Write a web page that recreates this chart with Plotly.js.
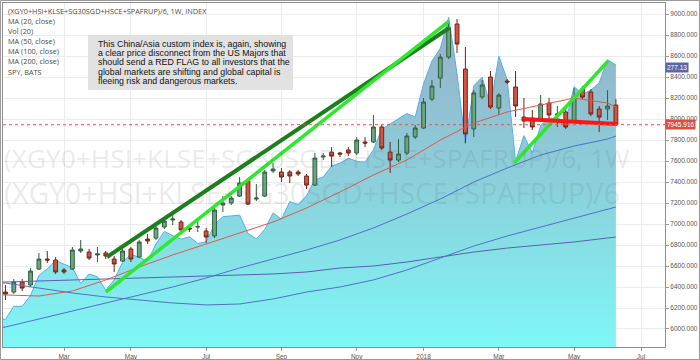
<!DOCTYPE html>
<html><head><meta charset="utf-8">
<script src="https://cdn.plot.ly/plotly-3.0.1.min.js"></script>
<style>html,body{margin:0;padding:0;background:#fff;overflow:hidden}#chart{width:700px;height:360px}</style>
</head><body><div id="chart"></div>
<script>
// ---------- DATA ----------
const weeks = [
 "2017-01-16","2017-01-23","2017-01-30","2017-02-06","2017-02-13","2017-02-20","2017-02-27","2017-03-06","2017-03-13","2017-03-20",
 "2017-03-27","2017-04-03","2017-04-10","2017-04-17","2017-04-24","2017-05-01","2017-05-08","2017-05-15","2017-05-22","2017-05-29",
 "2017-06-05","2017-06-12","2017-06-19","2017-06-26","2017-07-03","2017-07-10","2017-07-17","2017-07-24","2017-07-31","2017-08-07",
 "2017-08-14","2017-08-21","2017-08-28","2017-09-04","2017-09-11","2017-09-18","2017-09-25","2017-10-02","2017-10-09","2017-10-16",
 "2017-10-23","2017-10-30","2017-11-06","2017-11-13","2017-11-20","2017-11-27","2017-12-04","2017-12-11","2017-12-18","2017-12-25",
 "2018-01-01","2018-01-08","2018-01-15","2018-01-22","2018-01-29","2018-02-05","2018-02-12","2018-02-19","2018-02-26","2018-03-05",
 "2018-03-12","2018-03-19","2018-03-26","2018-04-02","2018-04-09","2018-04-16","2018-04-23","2018-04-30","2018-05-07","2018-05-14",
 "2018-05-21","2018-05-28","2018-06-04","2018-06-11"];
const openV = [6352,6352,6447,6419,6571,6666,6657,6562,6571,6743, 6733,6705,6724,6666,6647,6762,6685,6857,6866,6971,
 7038,7019,6962,6971,6933,6886,7181,7200,7266,7409, 7238,7266,7505,7495,7495,7495,7457,7371,7638,7685,
 7676,7705,7676,7781,7781,7924,7685,7609,7676,7829, 7914,8190,8390,8590,8905,8476,7905,8210,8400,8105,
 8362,8305,8019,8009,7990,8152,8038,8067,7981,8286, 8257,8095,8095,8133];
const highV = [6419,6476,6476,6581,6724,6743,6685,6581,6781,6848, 6762,6781,6743,6695,6762,6781,6848,6904,6990,7057,
 7086,7038,6990,7038,6962,7152,7267,7267,7447,7438, 7381,7514,7581,7533,7514,7514,7476,7676,7676,7733,
 7685,7733,7828,7828,8038,7943,7781,7810,7867,7943, 8200,8371,8619,8914,8952,8686,8276,8371,8457,8248,
 8381,8457,8200,8086,8228,8200,8124,8105,8295,8314, 8286,8124,8276,8190];
const lowV = [6276,6333,6362,6400,6562,6628,6524,6524,6562,6724, 6657,6638,6666,6543,6638,6638,6676,6809,6848,6952,
 6990,6914,6924,6924,6819,6866,7114,7181,7257,7181, 7219,7257,7485,7400,7390,7457,7333,7362,7609,7543,
 7638,7647,7657,7733,7771,7705,7486,7590,7657,7810, 7905,8171,8295,8571,8628,7771,7829,8190,8095,8038,
 8333,8019,7914,7895,7971,8009,7924,7905,7971,8190, 8028,7876,7990,7945.916];
const closeV = [6333,6447,6390,6552,6666,6657,6543,6543,6752,6762, 6676,6714,6695,6619,6743,6666,6828,6838,6962,7028,
 7047,6943,6952,6976,6876,7133,7200,7247,7390,7190, 7247,7495,7524,7447,7457,7476,7371,7628,7647,7647,
 7666,7676,7800,7771,7924,7724,7609,7667,7838,7914, 8162,8314,8590,8867,8714,7857,8248,8324,8114,8228,
 8352,8124,7981,7924,8143,8038,8048,7924,8209,8209, 8048,8019,8124,7945.916];

const spyDates = ["2017-01-09"].concat(weeks);
const spyClose = [227.05,226.74,229.37,229.34,231.51,235.44,236.74,238.42,237.69,237.03,233.86,
 235.74,235.20,232.51,234.59,238.08,239.70,238.98,238.31,241.71,244.17,
 243.36,242.64,243.13,241.80,242.11,245.56,247.09,247.32,247.41,243.79,
 242.71,244.56,247.84,246.58,250.09,249.44,251.23,254.37,254.95,257.11,
 257.71,258.67,258.09,257.86,260.36,264.46,265.51,266.51,267.51,266.86,
 273.42,277.92,280.41,286.58,275.45,261.50,273.03,274.71,269.08,278.87,
 274.20,258.05,263.15,259.72,265.15,266.61,266.56,266.02,272.85,271.33,
 272.15,273.60,278.19,277.13];

const maDates = ["2017-01-09","2017-01-16","2017-02-13","2017-03-13","2017-04-10","2017-05-08","2017-06-05","2017-07-03","2017-07-31",
 "2017-08-28","2017-09-25","2017-10-23","2017-11-20","2017-12-18","2018-01-15","2018-02-12","2018-03-12","2018-04-09",
 "2018-05-07","2018-06-04","2018-06-11"];
const ma20  = [6324,6324,6314,6362,6467,6591,6705,6810,6914,7019,7152,7305,7467,7610,7800,7962,8067,8133,8200,8152,8114];
const ma50  = [6005,6019,6095,6172,6248,6324,6400,6486,6581,6667,6752,6848,6962,7095,7238,7400,7533,7657,7743,7809,7838];
const ma100 = [6438,6438,6390,6343,6305,6276,6248,6229,6238,6286,6352,6400,6467,6562,6676,6790,6886,6971,7057,7143,7162];
const ma200 = [6448,6448,6457,6467,6476,6486,6495,6505,6514,6524,6543,6581,6600,6638,6686,6733,6771,6800,6829,6867,6876];

const trendDarkDates = ["2017-04-11","2018-01-22 08:00"];
const trendDarkVals  = [6686,8867];
const trendLimeDates = ["2017-04-10","2018-01-22 08:00"];
const trendLimeVals  = [6352,8933];
const trendLime2Dates = ["2018-03-17 19:00","2018-06-04 12:00"];
const trendLime2Vals  = [7581,8552];
const redFlagDates = ["2018-03-25 07:00","2018-06-12 02:00"];
const redFlagVals  = [8000,7952];

const xTickDates = ["2017-03-06","2017-05-01","2017-07-03","2017-09-04","2017-11-06","2018-01-01","2018-03-05","2018-05-07","2018-07-02"];
const xTickLabels = ["Mar","May","Jul","Sep","Nov","2018","Mar","May","Jul"];

const legendLabels = ["(XGY0+HSI+KLSE+SG30SGD+HSCE+SPAFRUP)/6, 1W, INDEX","MA (20, close)","Vol (20)","MA (50, close)","MA (100, close)","MA (200, close)","SPY, BATS"];
const noteLines = ["This China/Asia custom index is, again, showing","a clear price disconnect from the US Majors that","should send a RED FLAG to all investors that the","global markets are shifting and global capital is","fleeing risk and dangerous markets."];
const watermarkLines = ["(XGY0+HSI+KLSE+SG30SGD+HSCE+SPAFRUP)/6, 1W","(XGY0+HSI+KLSE+SG30SGD+HSCE+SPAFRUP)/6"];

// ---------- LAYOUT HELPERS (pixel -> paper) ----------
const PL = 3, PR = 665, PT = 3, PB = 347;
const PX = x => (x - PL) / (PR - PL);
const PY = y => (PB - y) / (PB - PT);

const lastClose = closeV[closeV.length - 1];
const lastSpy = spyClose[spyClose.length - 1];

const traces = [
 {type:'scatter', x:spyDates, y:spyClose, yaxis:'y', mode:'lines', line:{color:'#57acef', width:1},
  fill:'tozeroy', fillgradient:{type:'vertical', start:221.29, stop:289.41,
   colorscale:[[0,'#7ff7f7'],[0.45,'#8ad2dc'],[1,'#98adc5']]}, hoverinfo:'skip'},
 {type:'scatter', x:maDates, y:ma200, yaxis:'y2', mode:'lines', line:{color:'#5b5fb0', width:1}, hoverinfo:'skip'},
 {type:'scatter', x:maDates, y:ma100, yaxis:'y2', mode:'lines', line:{color:'#4f72c4', width:1}, hoverinfo:'skip'},
 {type:'scatter', x:maDates, y:ma50, yaxis:'y2', mode:'lines', line:{color:'#4f72c4', width:1}, hoverinfo:'skip'},
 {type:'scatter', x:maDates, y:ma20, yaxis:'y2', mode:'lines', line:{color:'#e8544a', width:1}, hoverinfo:'skip'},
 {type:'candlestick', x:weeks, open:openV, high:highV, low:lowV, close:closeV, yaxis:'y2',
  increasing:{line:{color:'#2f5e3e', width:1}, fillcolor:'#6ba583'},
  decreasing:{line:{color:'#6e2419', width:1}, fillcolor:'#d75442'},
  whiskerwidth:0, hoverinfo:'skip'},
 {type:'scatter', x:trendDarkDates, y:trendDarkVals, yaxis:'y2', mode:'lines', line:{color:'#1b7f1b', width:4}, hoverinfo:'skip'},
 {type:'scatter', x:trendLimeDates, y:trendLimeVals, yaxis:'y2', mode:'lines', line:{color:'#2ee82e', width:3.5}, hoverinfo:'skip'},
 {type:'scatter', x:trendLime2Dates, y:trendLime2Vals, yaxis:'y2', mode:'lines', line:{color:'#2ee82e', width:3.5}, hoverinfo:'skip'},
 {type:'scatter', x:redFlagDates, y:redFlagVals, yaxis:'y2', mode:'lines', line:{color:'#ff1414', width:4}, hoverinfo:'skip'}
];

const annotations = [];
legendLabels.forEach((t,i) => annotations.push({text:t, xref:'paper', yref:'paper', x:PX(6), y:PY(11 + i*10.1),
  xanchor:'left', yanchor:'middle', showarrow:false, font:{family:'Open Sans', size:7.3, color:'#4a4a4a'}}));
noteLines.forEach((t,i) => annotations.push({text:t, xref:'paper', yref:'paper', x:PX(96), y:PY(44 + i*9.2),
  xanchor:'left', yanchor:'middle', showarrow:false, font:{family:'Liberation Sans', size:8.8, color:'#111'}}));
annotations.push({text:watermarkLines[0], xref:'paper', yref:'paper', x:PX(2), y:PY(158), xanchor:'left', yanchor:'middle',
  showarrow:false, font:{family:'Open Sans', size:26.3, color:'rgba(100,100,100,0.15)'}});
annotations.push({text:watermarkLines[1], xref:'paper', yref:'paper', x:PX(2), y:PY(193), xanchor:'left', yanchor:'middle',
  showarrow:false, font:{family:'Open Sans', size:28.3, color:'rgba(100,100,100,0.15)'}});
annotations.push({text:lastClose.toFixed(3), xref:'paper', yref:'y2', x:1, y:lastClose, xanchor:'left', yanchor:'middle',
  showarrow:false, bgcolor:'#d9503f', borderpad:1, font:{family:'Liberation Sans', size:6.5, color:'#fff'}});
annotations.push({text:lastSpy.toFixed(2), xref:'paper', yref:'y', x:1, y:lastSpy, yshift:-2, xanchor:'left', yanchor:'middle',
  showarrow:false, bgcolor:'#5b67a6', borderpad:1, font:{family:'Liberation Sans', size:6.5, color:'#fff'}});

const shapes = [
 {type:'rect', xref:'paper', yref:'paper', x0:PX(88), x1:PX(293), y0:PY(90), y1:PY(35), fillcolor:'#e1e1e1', line:{width:0}, layer:'above'},
 {type:'line', xref:'paper', yref:'y2', x0:0, x1:1, y0:lastClose, y1:lastClose, line:{color:'#e0584a', width:1, dash:'dot'}, layer:'above'},
 {type:'rect', xref:'paper', yref:'paper', x0:PX(0.5), x1:PX(699.5), y0:PY(359.5), y1:PY(0.5), line:{color:'#9a9a9a', width:1}, fillcolor:'rgba(0,0,0,0)', layer:'above'}
];

const layout = {
 width:700, height:360, margin:{l:PL, r:700-PR, t:PT, b:360-PB, pad:0},
 paper_bgcolor:'#fff', plot_bgcolor:'#fff', showlegend:false, boxgap:0.35,
 xaxis:{type:'date', range:['2017-01-13 22:30','2018-07-22 02:00'], tickmode:'array', tickvals:xTickDates, ticktext:xTickLabels,
  ticks:'outside', ticklen:3, tickcolor:'#999', tickfont:{family:'Liberation Sans', size:6.5, color:'#555'},
  showgrid:true, gridcolor:'#ececec', showline:true, mirror:true, linecolor:'#8f8f8f', linewidth:1,
  zeroline:false, rangeslider:{visible:false}, fixedrange:true},
 yaxis:{range:[221.29, 289.41], visible:false, fixedrange:true},
 yaxis2:{overlaying:'y', side:'right', range:[5828.5, 9105], tick0:0, dtick:200, tickformat:'.3f',
  ticks:'outside', ticklen:3, tickcolor:'#999', tickfont:{family:'Liberation Sans', size:6.5, color:'#555'},
  showgrid:true, gridcolor:'#ececec', showline:true, mirror:true, linecolor:'#8f8f8f', linewidth:1, zeroline:false, fixedrange:true},
 annotations:annotations, shapes:shapes
};

Plotly.newPlot('chart', traces, layout, {staticPlot:true, displayModeBar:false});
</script></body></html>
